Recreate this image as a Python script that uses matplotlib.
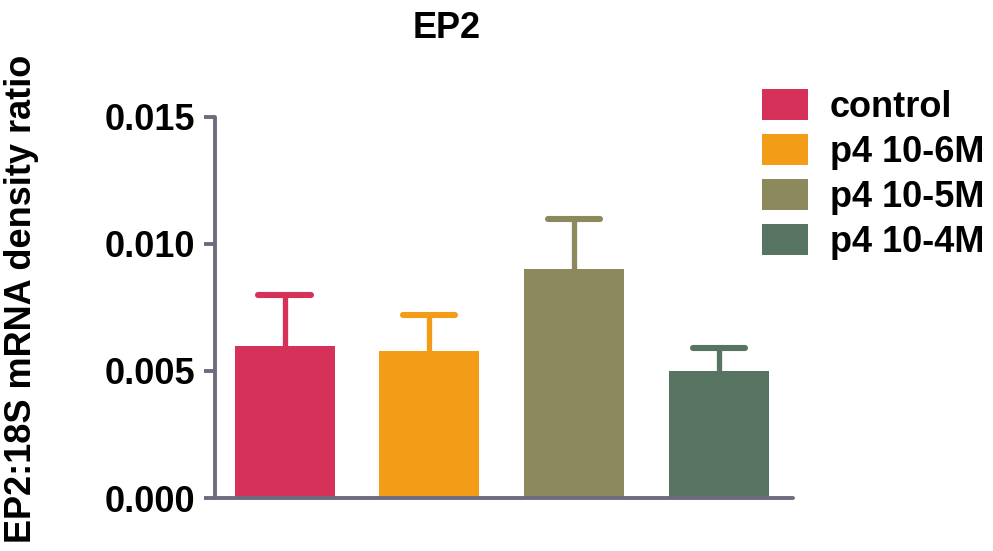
import matplotlib
matplotlib.use("Agg")
import matplotlib.pyplot as plt
from matplotlib.patches import Patch

plt.rcParams['font.family'] = ['Liberation Sans', 'DejaVu Sans']
plt.rcParams['font.weight'] = 'bold'

groups = ["control", "p4 10-6M", "p4 10-5M", "p4 10-4M"]
means = [0.0060, 0.0058, 0.0090, 0.0050]
sem = [0.0020, 0.0014, 0.0020, 0.0009]
colors = ["#D63159", "#F29C18", "#8C8A5C", "#567461"]
yticks = [0.000, 0.005, 0.010, 0.015]
ytick_labels = ["0.000", "0.005", "0.010", "0.015"]

axis_color = "#6E6B80"
fs = 26

fig = plt.figure(figsize=(9.93, 5.51), dpi=100)
ax = fig.add_axes([215/993, 53/551, (793-215)/993, (498-117)/551])

x = list(range(len(groups)))
bar_w = 0.69
cap_half = 0.18
tops = [m + e for m, e in zip(means, sem)]
for xi, m, t, c in zip(x, means, tops, colors):
    ax.vlines(xi, m, t, colors=c, linewidth=3.8, zorder=1)
    ax.hlines(t, xi - cap_half, xi + cap_half, colors=c, linewidth=4.4,
              zorder=1, capstyle='round')
ax.bar(x, means, width=bar_w, color=colors, zorder=2)

ax.set_xlim(-0.48, 3.51)
ax.set_ylim(0, 0.015)
ax.set_yticks(yticks)
ax.set_yticklabels(ytick_labels, fontsize=fs, fontweight='bold')
ax.set_xticks([])

for s in ['top', 'right']:
    ax.spines[s].set_visible(False)
for s in ['left', 'bottom']:
    ax.spines[s].set_color(axis_color)
    ax.spines[s].set_linewidth(2.8)
    ax.spines[s].set_capstyle('round')
ax.tick_params(axis='y', length=8, width=2.8, color=axis_color, pad=6)

fig.text(22/993, 1 - 299/551, "EP2:18S mRNA density ratio", rotation=90,
         ha='center', va='center', fontsize=26, fontweight='bold')

fig.text(447/993, 1 - 28/551, "EP2", ha='center', va='center',
         fontsize=fs, fontweight='bold')

handles = [Patch(facecolor=c, edgecolor='none') for c in colors]
leg = fig.legend(handles, groups, loc='upper left',
                 bbox_to_anchor=(762/993, 1 - 89/551), frameon=False,
                 fontsize=fs, handlelength=1.28, handleheight=0.95,
                 handletextpad=0.6, labelspacing=0.25, borderaxespad=0,
                 borderpad=0)
for t in leg.get_texts():
    t.set_fontweight('bold')

fig.savefig("out.png", dpi=100, facecolor='white')
